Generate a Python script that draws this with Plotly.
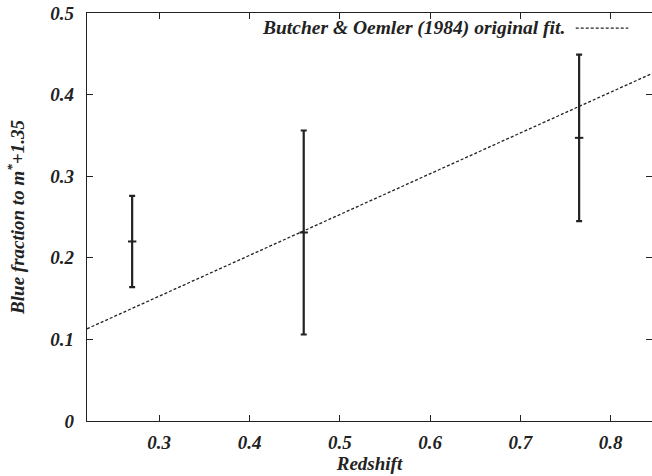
import plotly.graph_objects as go

# Data
redshift = [0.27, 0.46, 0.765]
blue_fraction = [0.22, 0.231, 0.347]
blue_err = [0.056, 0.125, 0.102]

fit_z = [0.22, 0.85]
fit_y = [0.113, 0.428]

x_ticks = [0.3, 0.4, 0.5, 0.6, 0.7, 0.8]
x_tick_labels = ["0.3", "0.4", "0.5", "0.6", "0.7", "0.8"]
y_ticks = [0, 0.1, 0.2, 0.3, 0.4, 0.5]
y_tick_labels = ["0", "0.1", "0.2", "0.3", "0.4", "0.5"]

legend_label = "Butcher & Oemler (1984) original fit."

FONT = "Liberation Serif"
INK = "#222222"
FS = 19

fig = go.Figure()

fig.add_trace(go.Scatter(
    x=fit_z, y=fit_y, mode="lines",
    line=dict(color=INK, width=1.3, dash="3px,2px"),
    showlegend=False, hoverinfo="skip",
))

fig.add_trace(go.Scatter(
    x=redshift, y=blue_fraction, mode="markers",
    marker=dict(symbol="line-ew", size=6, line=dict(color=INK, width=2), color=INK),
    error_y=dict(type="data", array=blue_err, visible=True, color=INK, thickness=2.2, width=3),
    showlegend=False,
))

# right-side mirrored ticks (axis line itself lies beyond the cropped edge)
fig.add_trace(go.Scatter(x=[None], y=[None], yaxis="y2", showlegend=False))

bi = dict(family=FONT, size=FS, color=INK, style="italic", weight="bold")

fig.update_layout(
    width=652, height=476,
    margin=dict(l=87, r=0, t=13, b=55),
    paper_bgcolor="white", plot_bgcolor="white",
    xaxis=dict(
        range=[0.22, 0.8457], tickvals=x_ticks, ticktext=x_tick_labels,
        ticks="inside", ticklen=6, tickwidth=1, tickcolor=INK,
        showline=True, linecolor=INK, linewidth=1.3, mirror="ticks",
        showgrid=False, zeroline=False,
        tickfont=bi, ticklabelstandoff=4,
        title=dict(text="Redshift", font=bi, standoff=0),
    ),
    yaxis=dict(
        range=[0, 0.5], tickvals=y_ticks, ticktext=y_tick_labels,
        ticks="inside", ticklen=6, tickwidth=1, tickcolor=INK,
        showline=True, linecolor=INK, linewidth=1.3,
        showgrid=False, zeroline=False,
        tickfont=bi, ticklabelstandoff=8,
        title=dict(text="Blue fraction to m<sup>*</sup>+1.35", font=bi, standoff=20),
    ),
    yaxis2=dict(
        range=[0, 0.5], tickvals=y_ticks, overlaying="y", side="right",
        ticks="inside", ticklen=6, tickwidth=1, tickcolor=INK,
        showticklabels=False, showline=False, showgrid=False, zeroline=False,
    ),
)

fig.add_annotation(
    xref="paper", yref="paper", x=0.849, y=0.963, xanchor="right", yanchor="middle",
    text=legend_label, showarrow=False,
    font=dict(family=FONT, size=19.5, color=INK, style="italic", weight="bold"),
)
fig.add_shape(
    type="line", xref="paper", yref="paper", x0=0.865, x1=0.958, y0=0.963, y1=0.963,
    line=dict(color=INK, width=1.3, dash="3px,2px"),
)

fig.write_html("out.html")
